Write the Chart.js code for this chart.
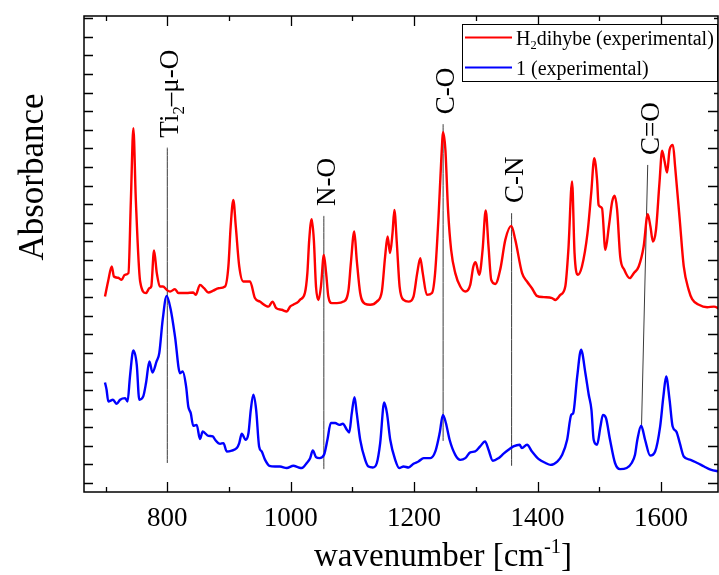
<!DOCTYPE html>
<html>
<head>
<meta charset="utf-8">
<script src="https://cdn.jsdelivr.net/npm/chart.js@4.4.1/dist/chart.umd.min.js"></script>
<style>
  html, body { margin: 0; padding: 0; background: #fff; }
  #wrap { width: 719px; height: 575px; }
</style>
</head>
<body>
<div id="wrap"><canvas id="irChart" width="719" height="575"></canvas></div>
<script>
// IR spectra: wavenumber [cm-1] and absorbance (arbitrary units, offset traces)
const ligandWn = [699, 704, 710, 713.5, 720.5, 726, 731, 737, 741, 745, 749, 756, 765.5, 771, 774, 778.5, 783, 788, 793, 799,
  804.5, 812.5, 818, 831, 842, 846, 853, 859.5, 866.5, 874.5, 883, 893.6, 899, 902.7, 907, 911, 916.6, 923, 934, 942,
  950, 964, 970.5, 976.5, 985.5, 993.6, 999, 1004, 1012.6, 1015, 1023, 1027, 1030, 1034, 1037.5, 1041, 1045, 1049, 1053.7, 1057.4,
  1061, 1066.6, 1075, 1085.6, 1093.7, 1097.5, 1103, 1107, 1112.6, 1120.7, 1128.8, 1139.6, 1147.7, 1153, 1157, 1161, 1165, 1168, 1172, 1176.5,
  1183, 1191, 1199, 1205, 1210, 1214, 1220.7, 1229, 1234, 1239.6, 1244, 1247, 1250.7, 1255, 1260, 1266.7, 1274.8, 1283, 1291, 1296,
  1299.6, 1305.6, 1311, 1316, 1320.6, 1325, 1331.6, 1339.8, 1347.8, 1357.5, 1364, 1375, 1383, 1391, 1399, 1410, 1423.6, 1429, 1437, 1445,
  1450, 1456, 1460, 1465, 1472, 1481, 1487, 1492, 1496.5, 1499, 1504.5, 1510, 1515.6, 1521, 1525, 1529, 1534, 1540.6, 1549.5, 1556,
  1564, 1572, 1578.6, 1583, 1587, 1592, 1597.6, 1602, 1606, 1610, 1614, 1619.5, 1623, 1630.5, 1637, 1645, 1650.6, 1661.5, 1675, 1686, 1695];
const ligandAbs = [1.003, 1.084, 1.165, 1.111, 1.104, 1.093, 1.120, 1.129, 1.523, 1.909, 1.523, 1.084, 1.022, 1.048, 1.057, 1.251, 1.129, 1.057, 1.057, 1.039,
  1.030, 1.043, 1.022, 1.022, 1.025, 1.012, 1.066, 1.048, 1.025, 1.035, 1.048, 1.057, 1.165, 1.380, 1.523, 1.380, 1.165, 1.084, 1.084, 0.995,
  0.976, 0.949, 0.976, 0.941, 0.932, 0.923, 0.949, 0.959, 0.976, 0.985, 1.022, 1.129, 1.308, 1.419, 1.308, 1.057, 0.985, 1.057, 1.227, 1.129,
  1.003, 0.968, 0.968, 0.976, 1.039, 1.183, 1.353, 1.201, 1.022, 0.964, 0.959, 0.976, 1.030, 1.218, 1.326, 1.237, 1.344, 1.469, 1.290, 1.057,
  0.985, 0.976, 1.003, 1.129, 1.210, 1.129, 1.012, 1.022, 1.129, 1.433, 1.738, 1.887, 1.792, 1.469, 1.254, 1.129, 1.057, 1.030, 1.066, 1.165,
  1.188, 1.120, 1.254, 1.466, 1.272, 1.093, 1.071, 1.152, 1.308, 1.383, 1.308, 1.129, 1.084, 1.048, 1.007, 1.000, 0.995, 0.985, 1.012, 1.057,
  1.254, 1.622, 1.237, 1.120, 1.165, 1.344, 1.559, 1.747, 1.631, 1.496, 1.478, 1.254, 1.380, 1.514, 1.545, 1.469, 1.218, 1.147, 1.102, 1.129,
  1.165, 1.272, 1.446, 1.380, 1.299, 1.362, 1.613, 1.788, 1.729, 1.670, 1.792, 1.819, 1.702, 1.416, 1.165, 1.039, 0.989, 0.959, 0.946, 0.949, 0.937];

const complexWn = [699, 701.6, 704.3, 712, 718, 723.5, 731.6, 735.6, 739.5, 745, 750.5, 754.6, 761, 765.5, 771, 776, 782.6, 787, 792.5, 799,
  805.6, 812.5, 820.6, 825, 830.5, 834, 838, 842, 847.6, 853, 857.4, 866.5, 873.8, 877.5, 885.6, 891, 896.3, 904.5, 912.6, 916.6,
  920.6, 927, 931.6, 935.3, 939.5, 944, 948.8, 953, 958.5, 965.5, 974.5, 982.6, 993.6, 1004.4, 1012.6, 1018, 1026, 1031.5, 1035.8, 1041,
  1046.6, 1054, 1059.5, 1065, 1072, 1079, 1084.5, 1091, 1094.8, 1099, 1103.4, 1107, 1112.6, 1120.7, 1126, 1133, 1139.6, 1145, 1151.5, 1156,
  1161.3, 1169.4, 1175.8, 1183, 1191, 1199, 1207, 1215.5, 1226.3, 1234.4, 1241.4, 1246.7, 1251.5, 1257.5, 1266.7, 1274.8, 1283, 1291, 1299, 1307,
  1315, 1320.6, 1327.6, 1336.8, 1345, 1353, 1361, 1371, 1374.7, 1383, 1391, 1402, 1413, 1421, 1432, 1440, 1448, 1454.6, 1457.8, 1464.3,
  1470.6, 1477.6, 1483, 1487.4, 1491, 1496.5, 1502, 1506, 1511, 1517.5, 1525.6, 1533.7, 1544.5, 1552.6, 1558, 1561.8, 1568, 1574.3, 1582.5, 1590.6,
  1598.7, 1604, 1608.5, 1614, 1619, 1625, 1630.6, 1637, 1648, 1659, 1670, 1680.5, 1695];
const complexAbs = [0.541, 0.502, 0.439, 0.448, 0.426, 0.448, 0.457, 0.439, 0.573, 0.713, 0.636, 0.448, 0.466, 0.538, 0.654, 0.595, 0.654, 0.699, 0.878, 1.007,
  0.932, 0.788, 0.591, 0.600, 0.519, 0.412, 0.376, 0.308, 0.313, 0.237, 0.277, 0.254, 0.251, 0.233, 0.211, 0.215, 0.170, 0.175, 0.188, 0.215,
  0.265, 0.233, 0.269, 0.394, 0.475, 0.394, 0.197, 0.170, 0.125, 0.093, 0.089, 0.089, 0.081, 0.093, 0.084, 0.081, 0.108, 0.134, 0.175, 0.140,
  0.134, 0.152, 0.233, 0.323, 0.323, 0.313, 0.319, 0.287, 0.272, 0.376, 0.462, 0.376, 0.233, 0.125, 0.089, 0.084, 0.108, 0.215, 0.433, 0.376,
  0.233, 0.125, 0.081, 0.089, 0.084, 0.104, 0.116, 0.134, 0.134, 0.170, 0.269, 0.367, 0.323, 0.233, 0.152, 0.125, 0.134, 0.165, 0.170, 0.197,
  0.224, 0.179, 0.120, 0.134, 0.158, 0.179, 0.197, 0.206, 0.188, 0.206, 0.170, 0.129, 0.108, 0.098, 0.116, 0.152, 0.233, 0.367, 0.376, 0.573,
  0.717, 0.591, 0.475, 0.394, 0.233, 0.206, 0.304, 0.367, 0.349, 0.233, 0.108, 0.075, 0.081, 0.108, 0.152, 0.233, 0.308, 0.233, 0.148, 0.170,
  0.304, 0.466, 0.573, 0.448, 0.304, 0.277, 0.215, 0.143, 0.125, 0.108, 0.089, 0.072, 0.062];

// band assignments and the guide lines under them
const bandNames = [
  [["Ti", 0], ["2", 1], ["\u2013\u03bc-O", 0]],
  [["N-O", 0]],
  [["C-O", 0]],
  [["C-N", 0]],
  [["C=O", 0]]
];
const bandWnTop = [800, 1053.7, 1247, 1358, 1578.6];
const bandWnBottom = [800, 1053.7, 1247, 1358, 1568.6];
const bandAbsTop = [1.804, 1.437, 1.930, 1.452, 1.711];
const bandAbsBottom = [0.108, 0.075, 0.227, 0.093, 0.313];

const xTicks = [800, 1000, 1200, 1400, 1600];
const xMinorTicks = [700, 900, 1100, 1300, 1500];

const SERIF = '"Liberation Serif", "DejaVu Serif", serif';

// text with subscripts (1) / superscripts (-1)
function richWidth(ctx, parts, size) {
  let w = 0;
  parts.forEach(([t, k]) => {
    ctx.font = `${k ? size * 0.62 : size}px ${SERIF}`;
    w += ctx.measureText(t).width;
  });
  return w;
}
function drawRich(ctx, parts, x, y, size) {
  let cx = x;
  parts.forEach(([t, k]) => {
    const s = k ? size * 0.62 : size;
    ctx.font = `${s}px ${SERIF}`;
    const dy = k === 1 ? size * 0.2 : k === -1 ? -size * 0.38 : 0;
    ctx.fillText(t, cx, y + dy);
    cx += ctx.measureText(t).width;
  });
}

const datasets = [
  {
    label: "H2dihybe (experimental)",
    data: ligandWn.map((x, i) => ({ x, y: ligandAbs[i] })),
    borderColor: "#ff0000",
    borderWidth: 2.4,
    order: 1
  },
  {
    label: "1 (experimental)",
    data: complexWn.map((x, i) => ({ x, y: complexAbs[i] })),
    borderColor: "#0000ff",
    borderWidth: 2.4,
    order: 1
  }
];
bandWnTop.forEach((wn, i) => {
  datasets.push({
    label: "guide" + i,
    data: [{ x: wn, y: bandAbsTop[i] }, { x: bandWnBottom[i], y: bandAbsBottom[i] }],
    borderColor: "#3a3a3a",
    borderWidth: 1,
    order: 2
  });
});

const legendRows = [
  { color: "#ff0000", parts: [["H", 0], ["2", 1], ["dihybe (experimental)", 0]] },
  { color: "#0000ff", parts: [["1 (experimental)", 0]] }
];

const framePlugin = {
  id: "frame",
  afterDraw(chart) {
    const { ctx, chartArea: a, scales } = chart;
    const xs = scales.x, ys = scales.y;
    ctx.save();
    ctx.strokeStyle = "#000";
    ctx.fillStyle = "#000";
    ctx.lineWidth = 1.5;
    ctx.strokeRect(a.left, a.top, a.right - a.left, a.bottom - a.top);

    // x ticks, inward on bottom and top
    ctx.lineWidth = 1.3;
    const xTick = (v, len) => {
      const px = Math.round(xs.getPixelForValue(v)) + 0.5;
      ctx.beginPath();
      ctx.moveTo(px, a.bottom); ctx.lineTo(px, a.bottom - len);
      ctx.moveTo(px, a.top); ctx.lineTo(px, a.top + len);
      ctx.stroke();
    };
    xTicks.forEach(v => xTick(v, 10));
    xMinorTicks.forEach(v => xTick(v, 5));

    // y ticks every 0.1
    for (let k = 0; k <= 25; k++) {
      const py = Math.round(ys.getPixelForValue(k / 10)) + 0.5;
      ctx.beginPath();
      ctx.moveTo(a.left, py); ctx.lineTo(a.left + 9, py);
      const rl = k % 2 === 0 ? 10 : 4;
      ctx.moveTo(a.right, py); ctx.lineTo(a.right - rl, py);
      ctx.stroke();
    }

    // x tick labels
    ctx.font = `27px ${SERIF}`;
    ctx.textAlign = "center";
    ctx.textBaseline = "alphabetic";
    xTicks.forEach(v => ctx.fillText(String(v), xs.getPixelForValue(v), a.bottom + 34));

    // axis titles
    const xt = [["wavenumber [cm", 0], ["-1", -1], ["]", 0]];
    ctx.textAlign = "left";
    const xw = richWidth(ctx, xt, 33);
    drawRich(ctx, xt, 443 - xw / 2, 566, 33);

    ctx.save();
    ctx.translate(43, 177);
    ctx.rotate(-Math.PI / 2);
    ctx.font = `35px ${SERIF}`;
    ctx.textAlign = "center";
    ctx.fillText("Absorbance", 0, 0);
    ctx.restore();

    // band labels above the guide lines
    bandNames.forEach((parts, i) => {
      const px = xs.getPixelForValue(bandWnTop[i]);
      const py = ys.getPixelForValue(bandAbsTop[i]);
      ctx.save();
      ctx.translate(px + 11, py - 10);
      ctx.rotate(-Math.PI / 2);
      ctx.textAlign = "left";
      drawRich(ctx, parts, 0, 0, 27);
      ctx.restore();
    });

    // legend box
    const lx = 462.5, ly = 24.5, lw = 255, lh = 57;
    ctx.fillStyle = "#fff";
    ctx.fillRect(lx, ly, lw, lh);
    ctx.lineWidth = 1;
    ctx.strokeStyle = "#000";
    ctx.strokeRect(lx, ly, lw, lh);
    legendRows.forEach((row, i) => {
      const cy = 37.5 + i * 30;
      ctx.strokeStyle = row.color;
      ctx.lineWidth = 2;
      ctx.beginPath();
      ctx.moveTo(465, cy); ctx.lineTo(512, cy);
      ctx.stroke();
      ctx.fillStyle = "#000";
      ctx.textAlign = "left";
      drawRich(ctx, row.parts, 516, cy + 7, 20);
    });
    ctx.restore();
  }
};

new Chart(document.getElementById("irChart").getContext("2d"), {
  type: "line",
  data: { datasets },
  options: {
    responsive: false,
    animation: false,
    devicePixelRatio: 1,
    layout: { padding: { left: 84, top: 16, right: 1, bottom: 83 } },
    elements: {
      point: { radius: 0 },
      line: { cubicInterpolationMode: "monotone", borderJoinStyle: "round" }
    },
    scales: {
      x: { type: "linear", min: 665, max: 1692.5, display: false },
      y: { type: "linear", min: -0.048, max: 2.512, display: false }
    },
    plugins: { legend: { display: false }, tooltip: { enabled: false } }
  },
  plugins: [framePlugin]
});
</script>
</body>
</html>
